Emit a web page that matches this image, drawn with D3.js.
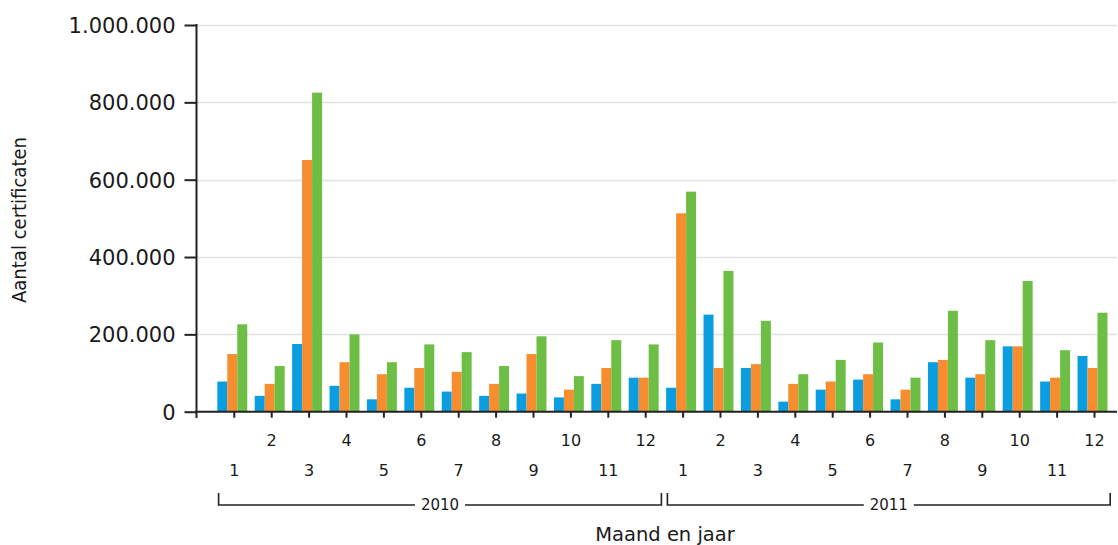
<!DOCTYPE html>
<html>
<head>
<meta charset="utf-8">
<script src="https://cdn.jsdelivr.net/npm/d3@7"></script>
<style>
  html, body { margin: 0; padding: 0; background: #fff; }
  svg { display: block; }
  text { font-family: "DejaVu Sans", Verdana, sans-serif; fill: #1a1a1a; }
</style>
</head>
<body>
<svg id="chart" width="1118" height="545"></svg>
<script>
// ---- data ----
const years = ["2010", "2011"];
const months = ["1","2","3","4","5","6","7","8","9","10","11","12"];
const seriesNames = ["A", "B", "C"];
const seriesColors = ["#0A9DDF", "#F68D2E", "#6CBE45"];
const blue2010   = [78000, 41000, 175000, 67000, 32000, 62000, 52000, 41000, 47000, 37000, 72000, 88000];
const orange2010 = [149000, 72000, 651000, 128000, 97000, 113000, 103000, 72000, 149000, 57000, 113000, 88000];
const green2010  = [226000, 118000, 825000, 200000, 128000, 174000, 154000, 118000, 195000, 92000, 185000, 174000];
const blue2011   = [62000, 251000, 113000, 26000, 57000, 83000, 32000, 128000, 88000, 169000, 78000, 144000];
const orange2011 = [513000, 113000, 123000, 72000, 78000, 97000, 57000, 134000, 97000, 169000, 88000, 113000];
const green2011  = [569000, 364000, 235000, 97000, 134000, 179000, 88000, 261000, 185000, 338000, 159000, 256000];
const yTicks = [0, 200000, 400000, 600000, 800000, 1000000];
const yTitle = "Aantal certificaten";
const xTitle = "Maand en jaar";

// ---- build table ----
const seriesByYear = {
  "2010": [blue2010, orange2010, green2010],
  "2011": [blue2011, orange2011, green2011]
};
const rows = [];
years.forEach(y => months.forEach((m, i) => {
  rows.push({ key: y + "-" + m, year: y, month: m, idx: rows.length,
              values: seriesNames.map((s, k) => ({ s, v: seriesByYear[y][k][i] })) });
}));

const svg = d3.select("#chart");
const axisX0 = 196.5, plotRight = 1117;
const x = d3.scaleBand().domain(rows.map(r => r.key))
  .range([215.6, 1113.2]).paddingInner(0.2).paddingOuter(0.1);
const y = d3.scaleLinear().domain([0, 1000000]).range([411.7, 25]);
const xs = d3.scaleBand().domain(seriesNames).range([0, x.bandwidth()]);
const barShift = -2;

// grid
svg.append("g").selectAll("line").data(yTicks.filter(t => t > 0)).join("line")
  .attr("x1", axisX0).attr("x2", plotRight)
  .attr("y1", d => Math.round(y(d)) + 0.5).attr("y2", d => Math.round(y(d)) + 0.5)
  .attr("stroke", "#e2e2e2").attr("stroke-width", 1.6);

// bars
const g = svg.append("g").selectAll("g").data(rows).join("g")
  .attr("transform", d => `translate(${x(d.key) + barShift},0)`);
g.selectAll("rect").data(d => d.values).join("rect")
  .attr("x", d => xs(d.s)).attr("width", xs.bandwidth())
  .attr("y", d => y(d.v)).attr("height", d => y(0) - y(d.v))
  .attr("fill", (d, i) => seriesColors[i]);

// y axis
const yAxis = d3.axisLeft(y).tickValues(yTicks).tickSize(12).tickPadding(9)
  .tickFormat(d => d3.format(",")(d).replace(/,/g, "."));
const ya = svg.append("g").attr("transform", `translate(${axisX0},0)`).call(yAxis);
ya.select(".domain").remove();
ya.selectAll(".tick line").attr("stroke", "#222").attr("stroke-width", 2);
ya.selectAll(".tick text").style("font-size", "21px").style("font-family", "DejaVu Sans").attr("fill", "#1a1a1a").attr("dy", "0.36em");
svg.append("line").attr("x1", axisX0).attr("x2", axisX0).attr("y1", 24).attr("y2", 418)
  .attr("stroke", "#222").attr("stroke-width", 2);

// x axis
const xAxis = d3.axisBottom(x).tickSize(6).tickFormat(k => k.split("-")[1]);
const xa = svg.append("g").attr("transform", `translate(0,${y(0)})`).call(xAxis);
xa.select(".domain").remove();
xa.selectAll(".tick line").attr("stroke", "#222").attr("stroke-width", 2);
xa.selectAll(".tick text").style("font-size", "16px").style("font-family", "DejaVu Sans")
  .attr("fill", "#1a1a1a")
  .attr("y", (k) => (+k.split("-")[1]) % 2 === 0 ? 23 : 53)
  .attr("dy", "0.71em");
svg.append("line").attr("x1", axisX0 - 1).attr("x2", plotRight).attr("y1", y(0)).attr("y2", y(0))
  .attr("stroke", "#222").attr("stroke-width", 2);

// year brackets
const step = x.step();
years.forEach(yr => {
  const first = rows.find(r => r.year === yr), last = rows.filter(r => r.year === yr).slice(-1)[0];
  const x1 = x(first.key) - x.paddingInner() * step / 2 + 3;
  const x2 = x(last.key) + x.bandwidth() + x.paddingInner() * step / 2 - 3;
  const xl = Math.max(x1, 218.3), xr = x2;
  const cx = (xl + xr) / 2;
  const yy = 505, half = 25;
  const bg = svg.append("g").attr("fill", "none").attr("stroke", "#222").attr("stroke-width", 1.6);
  bg.append("path").attr("d", `M${xl},${yy - 12}V${yy}H${cx - half}`);
  bg.append("path").attr("d", `M${cx + half},${yy}H${xr}V${yy - 12}`);
  svg.append("text").attr("x", cx).attr("y", yy).attr("dy", "0.36em")
    .attr("text-anchor", "middle").style("font-size", "15px").text(yr);
});

// titles
svg.append("text").attr("x", 665).attr("y", 541).attr("text-anchor", "middle")
  .style("font-size", "19.5px").text(xTitle);
svg.append("text").attr("transform", "translate(26,220) rotate(-90)")
  .attr("text-anchor", "middle").attr("textLength", 166).attr("lengthAdjust", "spacingAndGlyphs")
  .style("font-size", "19px").text(yTitle);
</script>
</body>
</html>
